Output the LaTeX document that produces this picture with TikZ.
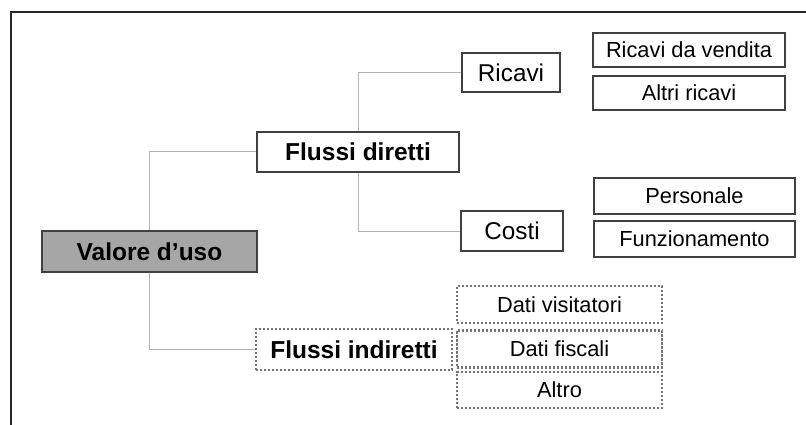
\documentclass[tikz,border=0pt]{standalone}
\usepackage{fontspec}
\setmainfont{Liberation Sans}
\begin{document}
\begin{tikzpicture}[x=1pt,y=-1pt,
  box/.style={draw=black!75, line width=1.3pt, fill=white, inner sep=0pt, align=center},
  dotbox/.style={draw=black!55, line width=2.4pt, dash pattern=on 2.2pt off 1.8pt, fill=white, inner sep=0pt, align=center},
  link/.style={draw=black!30, line width=1pt},
  main/.style={font=\fontsize{24.5}{27}\selectfont\bfseries},
  mid/.style={font=\fontsize{24.3}{27}\selectfont},
  leaf/.style={font=\fontsize{21.8}{24}\selectfont}]
\useasboundingbox (0,0) rectangle (806,425);
% frame lines
\draw[line width=1.5pt, black!85] (11,425) -- (11,12) -- (806,12);

% root
\node[box, main, fill=black!35, minimum width=215pt, minimum height=41pt] (valore) at (149.5,251.5) {Valore d’uso};

% first level
\node[box, main, minimum width=202pt, minimum height=40pt] (diretti) at (358,152) {Flussi diretti};
\node[dotbox, main, minimum width=196pt, minimum height=41pt] (indiretti) at (354,349.5) {Flussi indiretti};

% second level
\node[box, mid, minimum width=98pt, minimum height=39pt] (ricavi) at (511,72.5) {Ricavi};
\node[box, mid, minimum width=102pt, minimum height=40pt] (costi) at (512,231) {Costi};

% leaves
\node[box, leaf, minimum width=192pt, minimum height=34pt] (vendita) at (689,50) {Ricavi da vendita};
\node[box, leaf, minimum width=192pt, minimum height=34pt] (altriric) at (689,93) {Altri ricavi};
\node[box, leaf, minimum width=201pt, minimum height=36pt] (personale) at (694.5,196) {Personale};
\node[box, leaf, minimum width=201pt, minimum height=36pt] (funz) at (694.5,239) {Funzionamento};
\node[dotbox, leaf, minimum width=205pt, minimum height=37pt] (visit) at (559.5,304.5) {Dati visitatori};
\node[dotbox, leaf, minimum width=205pt, minimum height=37pt] (fiscali) at (559.5,349) {Dati fiscali};
\node[dotbox, leaf, minimum width=205pt, minimum height=36pt] (altro) at (559.5,390) {Altro};

% connectors
\draw[link] (valore.north) |- (diretti.west);
\draw[link] (valore.south) |- (indiretti.west);
\draw[link] (diretti.north) |- (ricavi.west);
\draw[link] (diretti.south) |- (costi.west);
\end{tikzpicture}
\end{document}
